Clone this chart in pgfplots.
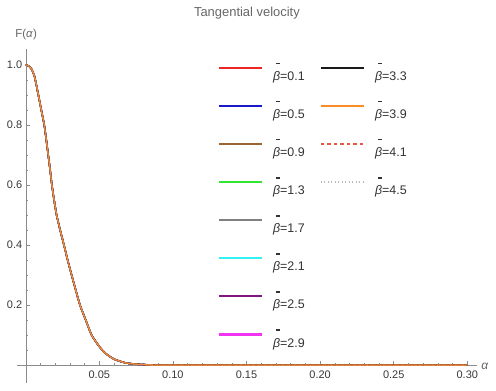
\documentclass[border=0pt]{standalone}
\usepackage{pgfplots}
\usepackage{pgfplotstable}
\pgfplotsset{compat=1.18}
\usepackage{fontspec}
\setmainfont{Liberation Sans}
\definecolor{cRed}{rgb}{0.92,0.15,0.15}
\definecolor{cBlue}{rgb}{0.1,0.1,0.8}
\definecolor{cBrown}{rgb}{0.6,0.4,0.2}
\definecolor{cGreen}{rgb}{0.2,0.9,0.2}
\definecolor{cGray}{rgb}{0.5,0.5,0.5}
\definecolor{cCyan}{rgb}{0.2,0.95,0.95}
\definecolor{cPurple}{rgb}{0.5,0.1,0.5}
\definecolor{cMagenta}{rgb}{0.95,0.2,0.95}
\definecolor{cBlack}{rgb}{0.1,0.1,0.1}
\definecolor{cOrange}{rgb}{0.98,0.55,0.15}
\definecolor{cDash}{rgb}{0.9,0.35,0.25}
\definecolor{cDot}{rgb}{0.72,0.72,0.72}
\definecolor{cDashL}{rgb}{0.92,0.48,0.25}
\definecolor{cDotL}{rgb}{0.85,0.72,0.6}
\newcommand{\bb}{\mbox{\rlap{\hspace{0.26em}\raisebox{1.3em}{\rule{0.28em}{0.12em}}}\textit{β}}}
\pgfplotstableread{
a F
0 1.0
0.002 0.997
0.004 0.986
0.006 0.962
0.0086 0.90
0.0106 0.85
0.0126 0.80
0.0140 0.75
0.0153 0.70
0.0166 0.65
0.0178 0.60
0.0193 0.55
0.0210 0.50
0.0234 0.45
0.0260 0.40
0.0285 0.35
0.0312 0.30
0.0340 0.25
0.0369 0.20
0.0408 0.15
0.0448 0.10
0.0500 0.062
0.0540 0.040
0.0600 0.020
0.0674 0.008
0.0750 0.003
0.0850 0.0008
0.1000 0.0
0.3000 0.0
}\curve
\begin{document}
\begin{tikzpicture}
\begin{axis}[
  scale only axis, width=459.7bp, height=333.7bp,
  xmin=-0.0059, xmax=0.3064, ymin=-0.059, ymax=1.053,
  axis lines=middle, axis line style={black!45,-},
  clip=false,
  xtick={0.05,0.1,0.15,0.2,0.25,0.3},
  xticklabels={0.05,0.10,0.15,0.20,0.25,0.30},
  ytick={0.2,0.4,0.6,0.8,1.0},
  yticklabels={0.2,0.4,0.6,0.8,1.0},
  minor xtick={0.01,0.02,0.03,0.04,0.06,0.07,0.08,0.09,0.11,0.12,0.13,0.14,0.16,0.17,0.18,0.19,0.21,0.22,0.23,0.24,0.26,0.27,0.28,0.29},
  minor ytick={0.05,0.1,0.15,0.25,0.3,0.35,0.45,0.5,0.55,0.65,0.7,0.75,0.85,0.9,0.95},
  tick align=inside,
  major tick length=4.5bp, minor tick length=2.5bp,
  every tick/.style={black!45, line width=0.5pt},
  tick label style={font=\fontsize{11}{13}\selectfont, text=black!78},
  xticklabel style={yshift=-2bp},
  /pgf/number format/assume math mode=true,
  legend columns=2,
  legend cell align=left,
  legend style={at={(axis cs:0.1304,1.018)}, anchor=north west, draw=none, fill=none,
    font=\fontsize{12.5}{14}\selectfont, text=black!80, inner sep=0pt,
    row sep=12.9bp,
    /tikz/every even column/.append style={column sep=12bp},
    nodes={inner sep=3bp}},
  legend image code/.code={\draw[line width=2.1pt, #1] (0bp,4.5bp) -- (43bp,4.5bp); \path (51bp,4.5bp);},
]
\addplot[forget plot, smooth, tension=0.4, color=cRed, line width=1.4pt] table[x=a,y=F] {\curve};
\addplot[forget plot, smooth, tension=0.4, color=cBlue, line width=1.4pt] table[x=a,y=F] {\curve};
\addplot[forget plot, smooth, tension=0.4, color=cBrown, line width=1.4pt] table[x=a,y=F] {\curve};
\addplot[forget plot, smooth, tension=0.4, color=cGreen, line width=1.4pt] table[x=a,y=F] {\curve};
\addplot[forget plot, smooth, tension=0.4, color=cGray, line width=1.4pt] table[x=a,y=F] {\curve};
\addplot[forget plot, smooth, tension=0.4, color=cCyan, line width=1.4pt] table[x=a,y=F] {\curve};
\addplot[forget plot, smooth, tension=0.4, color=cPurple, line width=1.4pt] table[x=a,y=F] {\curve};
\addplot[forget plot, smooth, tension=0.4, color=cMagenta, line width=1.4pt] table[x=a,y=F] {\curve};
\addplot[forget plot, smooth, tension=0.4, color=cBlack, line width=1.4pt] table[x=a,y=F] {\curve};
\addplot[forget plot, smooth, tension=0.4, color=cBrown, line width=1.6pt] table[x=a,y=F] {\curve};
\addplot[forget plot, smooth, tension=0.4, color=cOrange, line width=1.0pt] table[x=a,y=F] {\curve};
\addplot[forget plot, smooth, tension=0.4, color=cDashL, dashed, line width=0.8pt] table[x=a,y=F] {\curve};
\addplot[forget plot, smooth, tension=0.4, color=cDotL, dotted, line width=0.6pt] table[x=a,y=F] {\curve};
\addlegendimage{color=cRed}\addlegendentry{\bb=0.1}
\addlegendimage{color=cBlack}\addlegendentry{\bb=3.3}
\addlegendimage{color=cBlue}\addlegendentry{\bb=0.5}
\addlegendimage{color=cOrange}\addlegendentry{\bb=3.9}
\addlegendimage{color=cBrown}\addlegendentry{\bb=0.9}
\addlegendimage{color=cDash, dash pattern=on 3.5bp off 3bp}\addlegendentry{\bb=4.1}
\addlegendimage{color=cGreen}\addlegendentry{\bb=1.3}
\addlegendimage{color=cDot, dash pattern=on 0.9bp off 2.6bp}\addlegendentry{\bb=4.5}
\addlegendimage{color=cGray}\addlegendentry{\bb=1.7}
\addlegendimage{empty legend}\addlegendentry{}
\addlegendimage{color=cCyan}\addlegendentry{\bb=2.1}
\addlegendimage{empty legend}\addlegendentry{}
\addlegendimage{color=cPurple}\addlegendentry{\bb=2.5}
\addlegendimage{empty legend}\addlegendentry{}
\addlegendimage{color=cMagenta}\addlegendentry{\bb=2.9}
\addlegendimage{empty legend}\addlegendentry{}
\node[font=\fontsize{13}{15}\selectfont, text=black!60] at (axis cs:0.1503,1.173) {Tangential velocity};
\node[font=\fontsize{11.5}{13}\selectfont, text=black!60] at (axis cs:0.0003,1.103) {F(\textit{α})};
\node[font=\fontsize{12}{14}\selectfont, text=black!60] at (axis cs:0.312,-0.004) {\textit{α}};
\coordinate (bbsw) at (axis cs:-0.01746,-0.0833);
\coordinate (bbne) at (axis cs:0.3195,1.2167);
\end{axis}
\pgfresetboundingbox
\path[use as bounding box] (bbsw) rectangle (bbne);
\end{tikzpicture}
\end{document}
